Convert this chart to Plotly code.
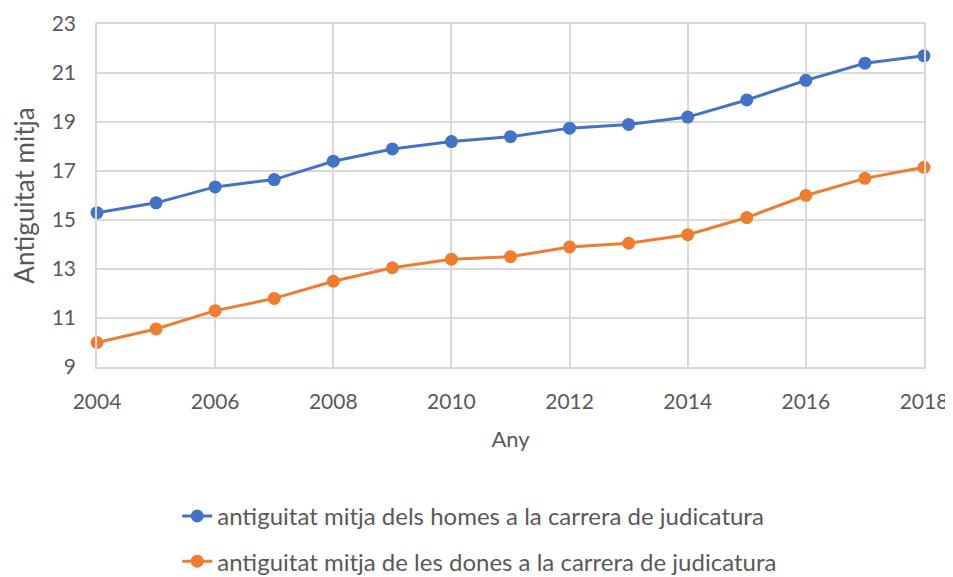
import plotly.graph_objects as go

years = list(range(2004, 2019))
homes = [15.3, 15.7, 16.35, 16.65, 17.4, 17.9, 18.2, 18.4, 18.75, 18.9, 19.2, 19.9, 20.7, 21.4, 21.7]
dones = [10.0, 10.55, 11.3, 11.8, 12.5, 13.05, 13.4, 13.5, 13.9, 14.05, 14.4, 15.1, 16.0, 16.7, 17.15]
name_homes = "antiguitat mitja dels homes a la carrera de judicatura"
name_dones = "antiguitat mitja de les dones a la carrera de judicatura"

x_ticks = list(range(2004, 2019, 2))
y_ticks = list(range(9, 24, 2))

FONT = "Lato, 'Open Sans', sans-serif"
TXT = "#595959"
GRID = "#D9D9D9"

fig = go.Figure()
fig.add_trace(go.Scatter(x=years, y=homes, name=name_homes, mode="lines+markers",
                         line=dict(color="#4472C4", width=3),
                         marker=dict(size=13, color="#4472C4"),
                         cliponaxis=False, legendgroup="a"))
fig.add_trace(go.Scatter(x=years, y=dones, name=name_dones, mode="lines+markers",
                         line=dict(color="#ED7D31", width=3),
                         marker=dict(size=13, color="#ED7D31"),
                         cliponaxis=False, legendgroup="b"))

# page body adds an 8px offset, so the figure is sized to end at the window edge
fig.update_layout(
    width=945, height=569,
    margin=dict(l=89, r=29, t=16, b=210, autoexpand=False),
    plot_bgcolor="white", paper_bgcolor="white",
    font=dict(family=FONT, size=21, color=TXT),
    legend=dict(x=0.097, y=-0.37, xanchor="left", yanchor="top",
                traceorder="grouped", tracegroupgap=11,
                font=dict(size=24, color=TXT)),
    showlegend=True,
)
fig.update_xaxes(range=[2004, 2018], tickvals=x_ticks, ticktext=[str(v) for v in x_ticks],
                 showgrid=True, gridcolor=GRID, gridwidth=1.5,
                 showline=True, linecolor=GRID, linewidth=1.5, mirror=True,
                 ticks="outside", ticklen=15, tickcolor="rgba(0,0,0,0)", zeroline=False,
                 title=dict(text="Any", font=dict(size=22, color=TXT), standoff=20),
                 tickfont=dict(size=21, color=TXT))
fig.update_yaxes(range=[9, 23], tickvals=y_ticks, ticktext=[str(v) for v in y_ticks],
                 showgrid=True, gridcolor=GRID, gridwidth=1.5,
                 showline=True, linecolor=GRID, linewidth=1.5, mirror=True,
                 ticks="outside", ticklen=15, tickcolor="rgba(0,0,0,0)", zeroline=False,
                 title=dict(text="Antiguitat mitja", font=dict(size=26, color=TXT), standoff=10),
                 tickfont=dict(size=21, color=TXT))

fig.write_html("out.html")
